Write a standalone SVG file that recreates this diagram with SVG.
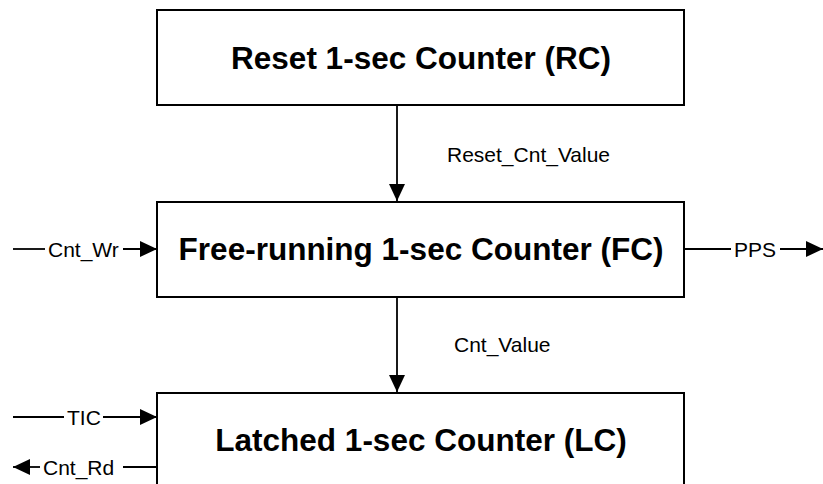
<svg xmlns="http://www.w3.org/2000/svg" width="823" height="484" viewBox="0 0 823 484">
<style>
.box{fill:#fff;stroke:#000;stroke-width:2}
.title{font-family:"Liberation Sans",Arial,sans-serif;font-weight:bold;font-size:31.5px;fill:#000;text-anchor:middle}
.lbl{font-family:"Liberation Sans",Arial,sans-serif;font-size:21px;fill:#000}
.ln{stroke:#000;stroke-width:1.8;fill:none}
</style>
<defs>
<marker id="ah" markerUnits="userSpaceOnUse" markerWidth="18" markerHeight="18" refX="17" refY="8" orient="auto">
<path d="M0,0 L17,8 L0,16 z" fill="#000"/>
</marker>
</defs>
<rect width="823" height="484" fill="#fff"/>
<g id="rc">
<rect class="box" x="157" y="10" width="527" height="95"/>
<text class="title" x="421" y="69">Reset 1-sec Counter (RC)</text>
</g>
<g id="fc">
<rect class="box" x="157" y="202" width="527" height="95"/>
<text class="title" x="421" y="260">Free-running 1-sec Counter (FC)</text>
</g>
<g id="lc">
<rect class="box" x="157" y="393" width="527" height="100"/>
<text class="title" x="421" y="451">Latched 1-sec Counter (LC)</text>
</g>
<g id="connectors">
<line class="ln" x1="397" y1="105" x2="397" y2="201" marker-end="url(#ah)"/>
<text class="lbl" x="447" y="162">Reset_Cnt_Value</text>
<line class="ln" x1="397" y1="297" x2="397" y2="392" marker-end="url(#ah)"/>
<text class="lbl" x="454" y="352">Cnt_Value</text>
<line class="ln" x1="13" y1="249" x2="45" y2="249"/>
<text class="lbl" x="48" y="257">Cnt_Wr</text>
<line class="ln" x1="123" y1="249" x2="157" y2="249" marker-end="url(#ah)"/>
<line class="ln" x1="684" y1="249" x2="731" y2="249"/>
<text class="lbl" x="734" y="257">PPS</text>
<line class="ln" x1="780" y1="249" x2="823" y2="249" marker-end="url(#ah)"/>
<line class="ln" x1="13" y1="417" x2="64" y2="417"/>
<text class="lbl" x="67" y="424.5">TIC</text>
<line class="ln" x1="103" y1="417" x2="157" y2="417" marker-end="url(#ah)"/>
<line class="ln" x1="157" y1="467" x2="123" y2="467"/>
<text class="lbl" x="43" y="474.5">Cnt_Rd</text>
<line class="ln" x1="40" y1="467" x2="13" y2="467" marker-end="url(#ah)"/>
</g>
</svg>
